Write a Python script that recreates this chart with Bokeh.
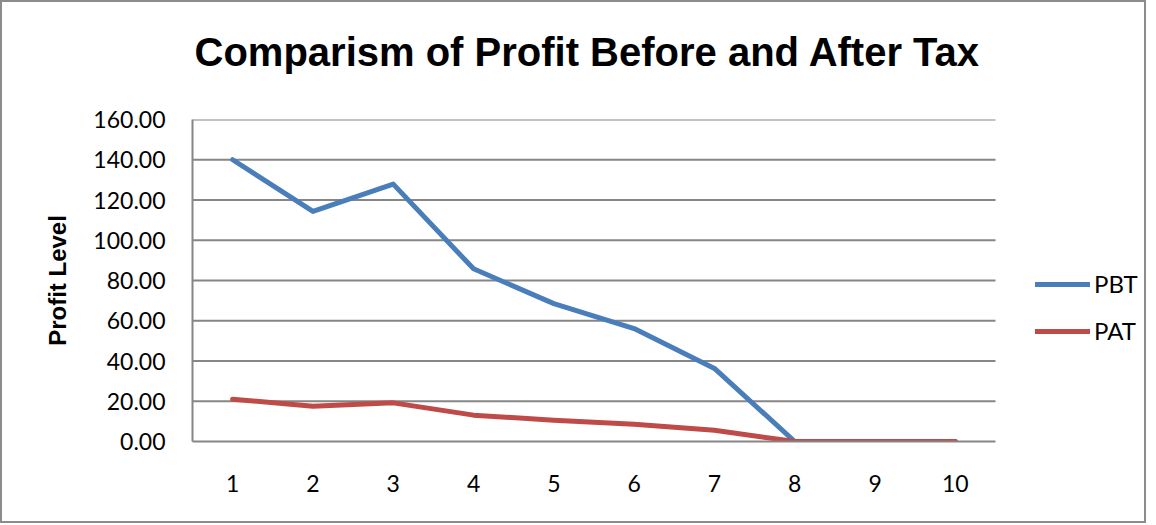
from bokeh.plotting import figure
from bokeh.models import Legend, LegendItem, FixedTicker, Range1d, NumeralTickFormatter, Title
from bokeh.embed import file_html
from bokeh.resources import INLINE

periods = [1, 2, 3, 4, 5, 6, 7, 8, 9, 10]
pbt = [140.0, 114.3, 127.9, 85.8, 68.5, 56.1, 36.3, 0.0, 0.0, 0.0]
pat = [21.0, 17.5, 19.2, 13.1, 10.6, 8.6, 5.6, 0.0, 0.0, 0.0]
y_ticks = [0, 20, 40, 60, 80, 100, 120, 140, 160]
title_text = "Comparism of Profit Before and After Tax"

TICKFONT = "Lato"
GRID = "#868686"

W, H = 1146, 523
LEFT, RIGHT = 190, 8
FRAME_W = W - LEFT - RIGHT
x_lo = periods[0] - 0.5
x_hi = periods[-1] + 0.5
x_end = x_lo + FRAME_W * (x_hi - x_lo) / 803.0   # room on the right for the legend

p = figure(width=W, height=H, output_backend="svg", toolbar_location=None,
           x_range=Range1d(x_lo, x_end), y_range=Range1d(0, 160),
           min_border_left=LEFT, min_border_right=RIGHT, min_border_top=116,
           min_border_bottom=84)
p.styles = {"border": "2px solid #8c8c8c"}

# spacer between the title and the plot area
spacer = Title(text=" ", text_font_size="8px", standoff=6)
p.add_layout(spacer, "above")

main_title = Title(text=title_text, text_font="Liberation Sans", text_font_size="40px",
                   text_font_style="bold", align="left", vertical_align="top",
                   offset=2, text_color="black", standoff=54)
p.add_layout(main_title, "above")

p.outline_line_color = None
p.xgrid.grid_line_color = None
p.ygrid.grid_line_color = None
p.yaxis.ticker = FixedTicker(ticks=y_ticks)
p.xaxis.ticker = FixedTicker(ticks=periods)
p.yaxis.formatter = NumeralTickFormatter(format="0.00")
p.xaxis.bounds = (x_lo, x_hi)

# horizontal grid lines limited to the category area
gy = y_ticks[1:]
p.segment(x0=[x_lo] * len(gy), x1=[x_hi] * len(gy), y0=gy, y1=gy,
          line_color=GRID, line_width=2)

for ax in (p.xaxis[0], p.yaxis[0]):
    ax.axis_line_color = GRID
    ax.axis_line_width = 2
    ax.major_tick_line_color = None
    ax.minor_tick_line_color = None
    ax.major_label_text_font = TICKFONT
    ax.major_label_text_font_size = "23px"
    ax.major_label_text_color = "black"

p.yaxis.major_label_standoff = 21
p.xaxis.major_label_standoff = 27
p.yaxis.axis_label = "Profit Level"
p.yaxis.axis_label_text_font = "Liberation Sans"
p.yaxis.axis_label_text_font_style = "bold"
p.yaxis.axis_label_text_font_size = "24px"
p.yaxis.axis_label_text_color = "black"
p.yaxis.axis_label_standoff = 19

r1 = p.line(periods, pbt, line_color="#4A7EBB", line_width=5, line_join="round", line_cap="round")
r2 = p.line(periods, pat, line_color="#BE4B48", line_width=5, line_join="round", line_cap="round")

legend = Legend(items=[LegendItem(label="PBT", renderers=[r1]),
                       LegendItem(label="PAT", renderers=[r2])],
                location=(843, 96), orientation="vertical")
legend.padding = 0
legend.margin = 0
legend.border_line_color = None
legend.background_fill_alpha = 0
legend.glyph_width = 55
legend.glyph_height = 24
legend.spacing = 18
legend.label_standoff = 4
legend.label_text_font = TICKFONT
legend.label_text_font_size = "24px"
legend.label_text_color = "black"
p.add_layout(legend)

open("out.html", "w").write(file_html(p, INLINE))
